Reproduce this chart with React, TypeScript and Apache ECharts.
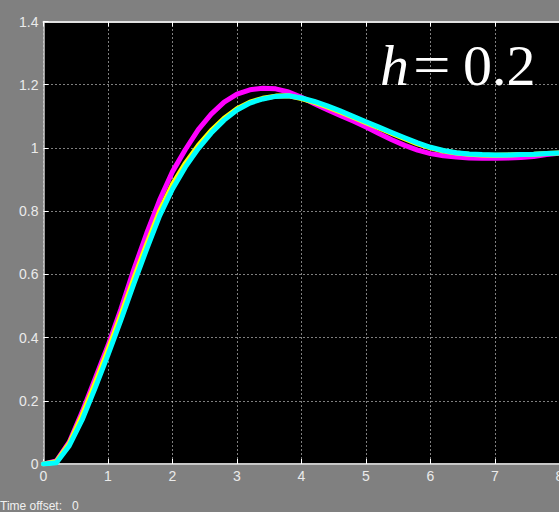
import React, { useEffect, useRef } from "react";
import * as echarts from "echarts";

// Sample instants (s) of the step responses
const TIME = [
  0, 0.2, 0.4, 0.6, 0.8, 1.0, 1.2, 1.4, 1.6, 1.8, 2.0, 2.2, 2.4, 2.6, 2.8, 3.0,
  3.2, 3.4, 3.6, 3.8, 4.0, 4.2, 4.4, 4.6, 4.8, 5.0, 5.2, 5.4, 5.6, 5.8, 6.0,
  6.2, 6.4, 6.6, 6.8, 7.0, 7.2, 7.4, 7.6, 7.8, 8.0, 8.2, 8.4,
];

// Responses shown on the scope
const MAGENTA = [
  0, 0.01, 0.07, 0.165, 0.27, 0.375, 0.49, 0.615, 0.73, 0.835, 0.925, 0.995,
  1.058, 1.107, 1.145, 1.17, 1.184, 1.189, 1.187, 1.177, 1.16, 1.14, 1.121,
  1.103, 1.085, 1.066, 1.046, 1.026, 1.008, 0.993, 0.982, 0.975, 0.971, 0.968,
  0.967, 0.967, 0.968, 0.97, 0.973, 0.979, 0.983, 0.985, 0.986,
];
const YELLOW = [
  0, 0.007, 0.065, 0.155, 0.256, 0.362, 0.472, 0.587, 0.696, 0.8, 0.885, 0.952,
  1.008, 1.055, 1.094, 1.124, 1.145, 1.157, 1.164, 1.165, 1.156, 1.144, 1.13,
  1.114, 1.097, 1.08, 1.063, 1.046, 1.029, 1.013, 1.0, 0.99, 0.984, 0.98,
  0.978, 0.977, 0.978, 0.979, 0.98, 0.982, 0.984, 0.985, 0.986,
];
const CYAN = [
  0, 0.004, 0.058, 0.14, 0.24, 0.345, 0.455, 0.57, 0.68, 0.785, 0.87, 0.94,
  0.998, 1.047, 1.088, 1.12, 1.142, 1.155, 1.163, 1.165, 1.158, 1.147, 1.133,
  1.117, 1.1, 1.083, 1.066, 1.049, 1.032, 1.016, 1.002, 0.992, 0.985, 0.981,
  0.979, 0.978, 0.978, 0.979, 0.98, 0.982, 0.984, 0.985, 0.986,
];

const LABEL_FONT = "'Liberation Sans', Arial, sans-serif";
const SERIF = "'Liberation Serif', 'Times New Roman', serif";

function pairs(values: number[]) {
  return TIME.map((t, i) => [t, values[i]]);
}

export default function App() {
  const ref = useRef<HTMLDivElement>(null);

  useEffect(() => {
    if (!ref.current) return;
    const chart = echarts.init(ref.current, undefined, { renderer: "svg" });

    const labelStyle = {
      color: "#ebebeb",
      fontFamily: LABEL_FONT,
      fontSize: 14,
    };

    const lineSeries = (name: string, values: number[], color: string) => ({
      name,
      type: "line",
      data: pairs(values),
      showSymbol: false,
      symbol: "none",
      lineStyle: { color, width: 5, join: "round", cap: "round" },
      z: 3,
    });

    const bigText = (x: number, text: string, italic: boolean, scaleX = 1) => ({
      type: "text",
      z: 10,
      x,
      y: 65,
      scaleX,
      style: {
        x: 0,
        y: 0,
        text,
        fill: "#ffffff",
        font: `${italic ? "italic " : ""}58px ${SERIF}`,
        textVerticalAlign: "middle",
      },
    });

    chart.setOption({
      animation: false,
      backgroundColor: "#808080",
      grid: {
        left: 43.5,
        top: 21.5,
        bottom: 48,
        width: 645,
        show: true,
        backgroundColor: "#000000",
        borderWidth: 0,
      },
      xAxis: [
        {
          type: "value",
          min: 0,
          max: 10,
          interval: 1,
          axisLine: { show: true, lineStyle: { color: "#c8c8c8", width: 2 } },
          axisTick: { show: true, inside: true, length: 5, lineStyle: { color: "#ffffff", width: 1 } },
          axisLabel: { ...labelStyle, margin: 5 },
          splitLine: { show: true, lineStyle: { color: "#ffffff", width: 1, type: [1, 3] } },
        },
        {
          type: "value",
          position: "top",
          min: 0,
          max: 10,
          interval: 1,
          axisLine: { show: true, onZero: false, lineStyle: { color: "#e0e0e0", width: 2 } },
          axisTick: { show: true, inside: true, length: 5, lineStyle: { color: "#ffffff", width: 1 } },
          axisLabel: { show: false },
          splitLine: { show: false },
        },
      ],
      yAxis: {
        type: "value",
        min: 0,
        max: 1.4,
        interval: 0.2,
        axisLine: { show: true, onZero: false, lineStyle: { color: "#d0d0d0", width: 1.5 } },
        axisTick: { show: true, inside: true, length: 5, lineStyle: { color: "#ffffff", width: 1 } },
        axisLabel: { ...labelStyle, margin: 5 },
        splitLine: { show: true, lineStyle: { color: "#ffffff", width: 1, type: [1, 3] } },
      },
      series: [
        lineSeries("magenta", MAGENTA, "#ff00ff"),
        lineSeries("yellow", YELLOW, "#ffff00"),
        lineSeries("cyan", CYAN, "#00ffff"),
      ],
      graphic: [
        {
          type: "text",
          left: 0,
          top: 500,
          style: {
            text: "Time offset:   0",
            fill: "#f0f0f0",
            font: `12px ${LABEL_FONT}`,
          },
        },
        bigText(380, "h", true),
        bigText(413, "=", false, 1.15),
        bigText(463, "0.2", false),
      ],
    });

    return () => chart.dispose();
  }, []);

  return (
    <div
      style={{
        position: "fixed",
        left: 0,
        top: 0,
        width: 559,
        height: 512,
        overflow: "hidden",
        background: "#808080",
      }}
    >
      <div ref={ref} style={{ width: 700, height: 512 }} />
    </div>
  );
}
